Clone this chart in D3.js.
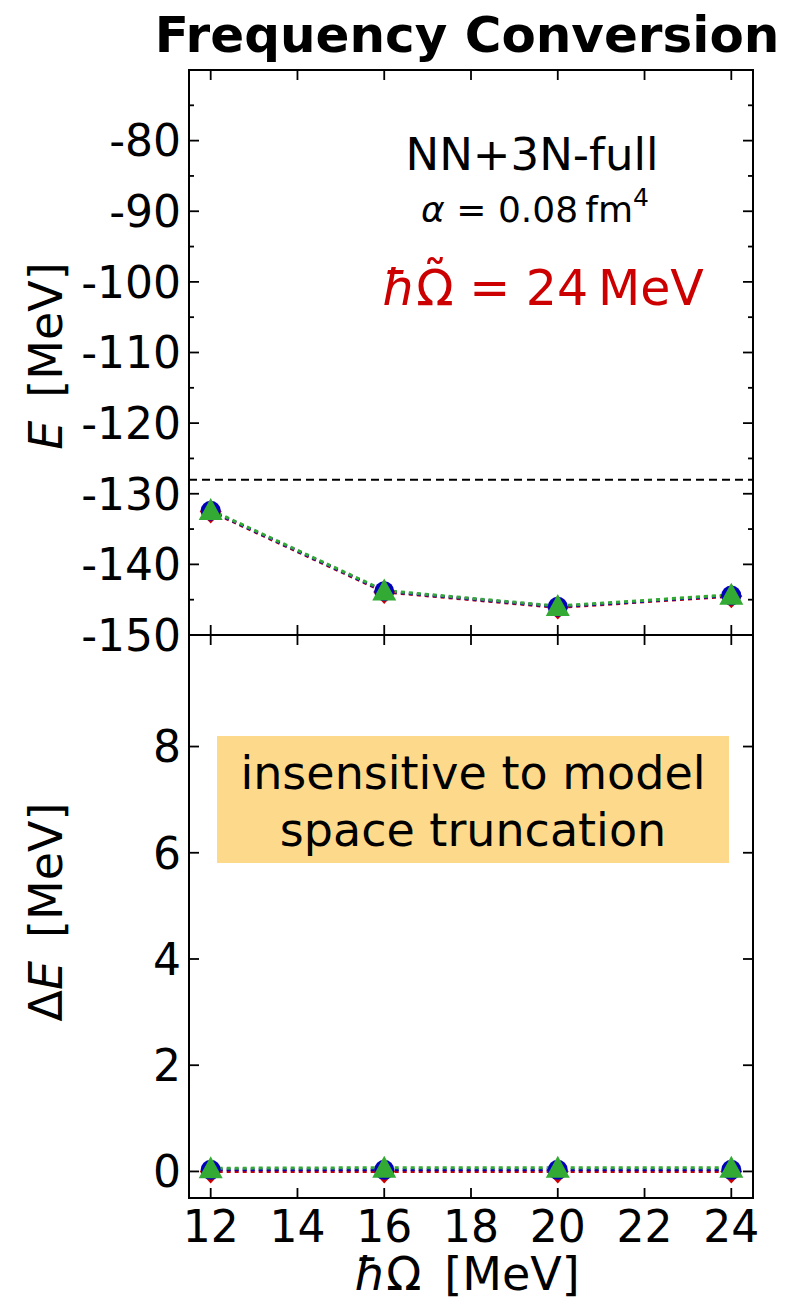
<!DOCTYPE html>
<html><head><meta charset="utf-8">
<script src="https://cdn.jsdelivr.net/npm/d3@7"></script>
<style>body{margin:0;background:#fff}svg{display:block;font-family:"DejaVu Sans",sans-serif}</style>
</head><body><svg id="c" width="791" height="1303"></svg>
<script>
const hw = [12, 16, 20, 24];
const eRed = [-132.5, -143.9, -146.1, -144.5];
const eBlue = [-132.4, -143.8, -146.0, -144.4];
const eGreen = [-132.3, -143.7, -145.9, -144.3];
const eRef = -128;
const dRed = [0.0, 0.0, 0.0, 0.0];
const dBlue = [0.03, 0.03, 0.03, 0.03];
const dGreen = [0.06, 0.07, 0.07, 0.07];
const xTicks = [12, 14, 16, 18, 20, 22, 24];
const eTicks = [-80, -90, -100, -110, -120, -130, -140, -150];
const eMinor = [-75, -85, -95, -105, -115, -125, -135, -145];
const dTicks = [0, 2, 4, 6, 8];

const svg = d3.select("#c");
const L = 189, R = 753, T1 = 70, B1 = 635, B2 = 1198;
const x = d3.scaleLinear().domain([11.5, 24.5]).range([L, R]);
const yE = d3.scaleLinear().domain([-150, -70]).range([B1, T1]);
const yD = d3.scaleLinear().domain([-0.5, 10.1]).range([B2, B1]);

const series = [
  {c: "#cc0000", shape: "diamond"},
  {c: "#0000bb", shape: "circle"},
  {c: "#33aa33", shape: "triangle"}
];

function tickMarks(g, yScale, yt, len, top, bottom, xt) {
  yt.forEach(v => {
    const y = yScale(v);
    g.append("line").attr("x1", L).attr("x2", L + len).attr("y1", y).attr("y2", y);
    g.append("line").attr("x1", R).attr("x2", R - len).attr("y1", y).attr("y2", y);
  });
  if (xt) xt.forEach(v => {
    const xx = x(v);
    g.append("line").attr("x1", xx).attr("x2", xx).attr("y1", top).attr("y2", top + len);
    g.append("line").attr("x1", xx).attr("x2", xx).attr("y1", bottom).attr("y2", bottom - len);
  });
}

function drawPanel(yScale, data) {
  const g = svg.append("g");
  const line = d3.line().x((d, i) => x(hw[i])).y(d => yScale(d));
  data.forEach((arr, k) => {
    g.append("path").attr("d", line(arr)).attr("fill", "none")
      .attr("stroke", series[k].c).attr("stroke-width", 3).attr("stroke-dasharray", "4,4");
  });
  data.forEach((arr, k) => {
    const s = series[k];
    arr.forEach((v, i) => {
      const cx = x(hw[i]), cy = yScale(v);
      if (s.shape === "diamond") {
        g.append("path").attr("d", `M${cx},${cy-12}L${cx+11},${cy}L${cx},${cy+12}L${cx-11},${cy}Z`).attr("fill", s.c);
      } else if (s.shape === "circle") {
        g.append("circle").attr("cx", cx).attr("cy", cy).attr("r", 10).attr("fill", s.c);
      } else {
        g.append("path").attr("d", `M${cx},${cy-12}L${cx+12},${cy+10}L${cx-12},${cy+10}Z`).attr("fill", s.c);
      }
    });
  });
}

// top panel
svg.append("line").attr("x1", L).attr("x2", R).attr("y1", yE(eRef)).attr("y2", yE(eRef))
  .attr("stroke", "#000").attr("stroke-width", 2).attr("stroke-dasharray", "8,5");
drawPanel(yE, [eRed, eBlue, eGreen]);

// bottom panel
svg.append("rect").attr("x", 217).attr("y", 736).attr("width", 512).attr("height", 127)
  .attr("fill", "#fdd98c");
drawPanel(yD, [dRed, dBlue, dGreen]);

// ticks
const tg = svg.append("g").attr("stroke", "#000").attr("stroke-width", 1.8);
tickMarks(tg, yE, eTicks, 10, T1, B1, xTicks);
tickMarks(tg, yE, eMinor, 5, T1, B1, null);
tickMarks(tg, yD, dTicks, 10, B1, B2, xTicks);

// frames
const fg = svg.append("g").attr("fill", "none").attr("stroke", "#000").attr("stroke-width", 2);
fg.append("rect").attr("x", L).attr("y", T1).attr("width", R - L).attr("height", B1 - T1);
fg.append("rect").attr("x", L).attr("y", B1).attr("width", R - L).attr("height", B2 - B1);

// tick labels
const lab = svg.append("g").attr("font-size", 44).attr("fill", "#000");
eTicks.forEach(v => lab.append("text").attr("x", 181).attr("y", yE(v)).attr("dy", "0.36em")
  .attr("text-anchor", "end").text(String(v)));
dTicks.forEach(v => lab.append("text").attr("x", 181).attr("y", yD(v)).attr("dy", "0.36em")
  .attr("text-anchor", "end").text(String(v)));
xTicks.forEach(v => lab.append("text").attr("x", x(v)).attr("y", 1242)
  .attr("text-anchor", "middle").text(String(v)));

// title
svg.append("text").attr("x", 467).attr("y", 52).attr("text-anchor", "middle")
  .attr("font-size", 50).attr("font-weight", "bold").text("Frequency Conversion");

// axis labels
const yl1 = svg.append("text").attr("transform", "translate(62,356) rotate(-90)").attr("text-anchor", "middle").attr("font-size", 46);
yl1.append("tspan").attr("font-style", "italic").text("E");
yl1.append("tspan").text("\u2002[MeV]");
const yl2 = svg.append("text").attr("transform", "translate(62,912) rotate(-90)").attr("text-anchor", "middle").attr("font-size", 46);
yl2.append("tspan").text("Δ");
yl2.append("tspan").attr("font-style", "italic").text("E");
yl2.append("tspan").text("\u2002[MeV]");
const xl = svg.append("text").attr("x", 467).attr("y", 1290).attr("text-anchor", "middle").attr("font-size", 46);
xl.append("tspan").attr("font-style", "italic").text("ħ");
xl.append("tspan").text("Ω\u2002[MeV]");

// annotations
svg.append("text").attr("x", 532).attr("y", 170).attr("text-anchor", "middle").attr("font-size", 45).text("NN+3N-full");
const a2 = svg.append("text").attr("x", 535).attr("y", 222).attr("text-anchor", "middle").attr("font-size", 36);
a2.append("tspan").attr("font-style", "italic").text("α");
a2.append("tspan").text(" = 0.08\u2009fm");
a2.append("tspan").attr("font-size", 25).attr("dy", -16).text("4");

const a3 = svg.append("text").attr("x", 543).attr("y", 305).attr("text-anchor", "middle").attr("font-size", 49).attr("fill", "#cc0000");
a3.append("tspan").attr("font-style", "italic").text("ħ");
const om = a3.append("tspan").text("Ω");
const tl = a3.append("tspan").text("\u02DC");
const rest = a3.append("tspan").text(" = 24\u2009MeV");
const wO = om.node().getComputedTextLength();
const wT = tl.node().getComputedTextLength();
tl.attr("dx", -(wO + wT) / 2).attr("dy", -9);
rest.attr("dx", (wO - wT) / 2).attr("dy", 9);

svg.append("text").attr("x", 473).attr("y", 789).attr("text-anchor", "middle").attr("font-size", 46).text("insensitive to model");
svg.append("text").attr("x", 473).attr("y", 846).attr("text-anchor", "middle").attr("font-size", 46).text("space truncation");
</script></body></html>
